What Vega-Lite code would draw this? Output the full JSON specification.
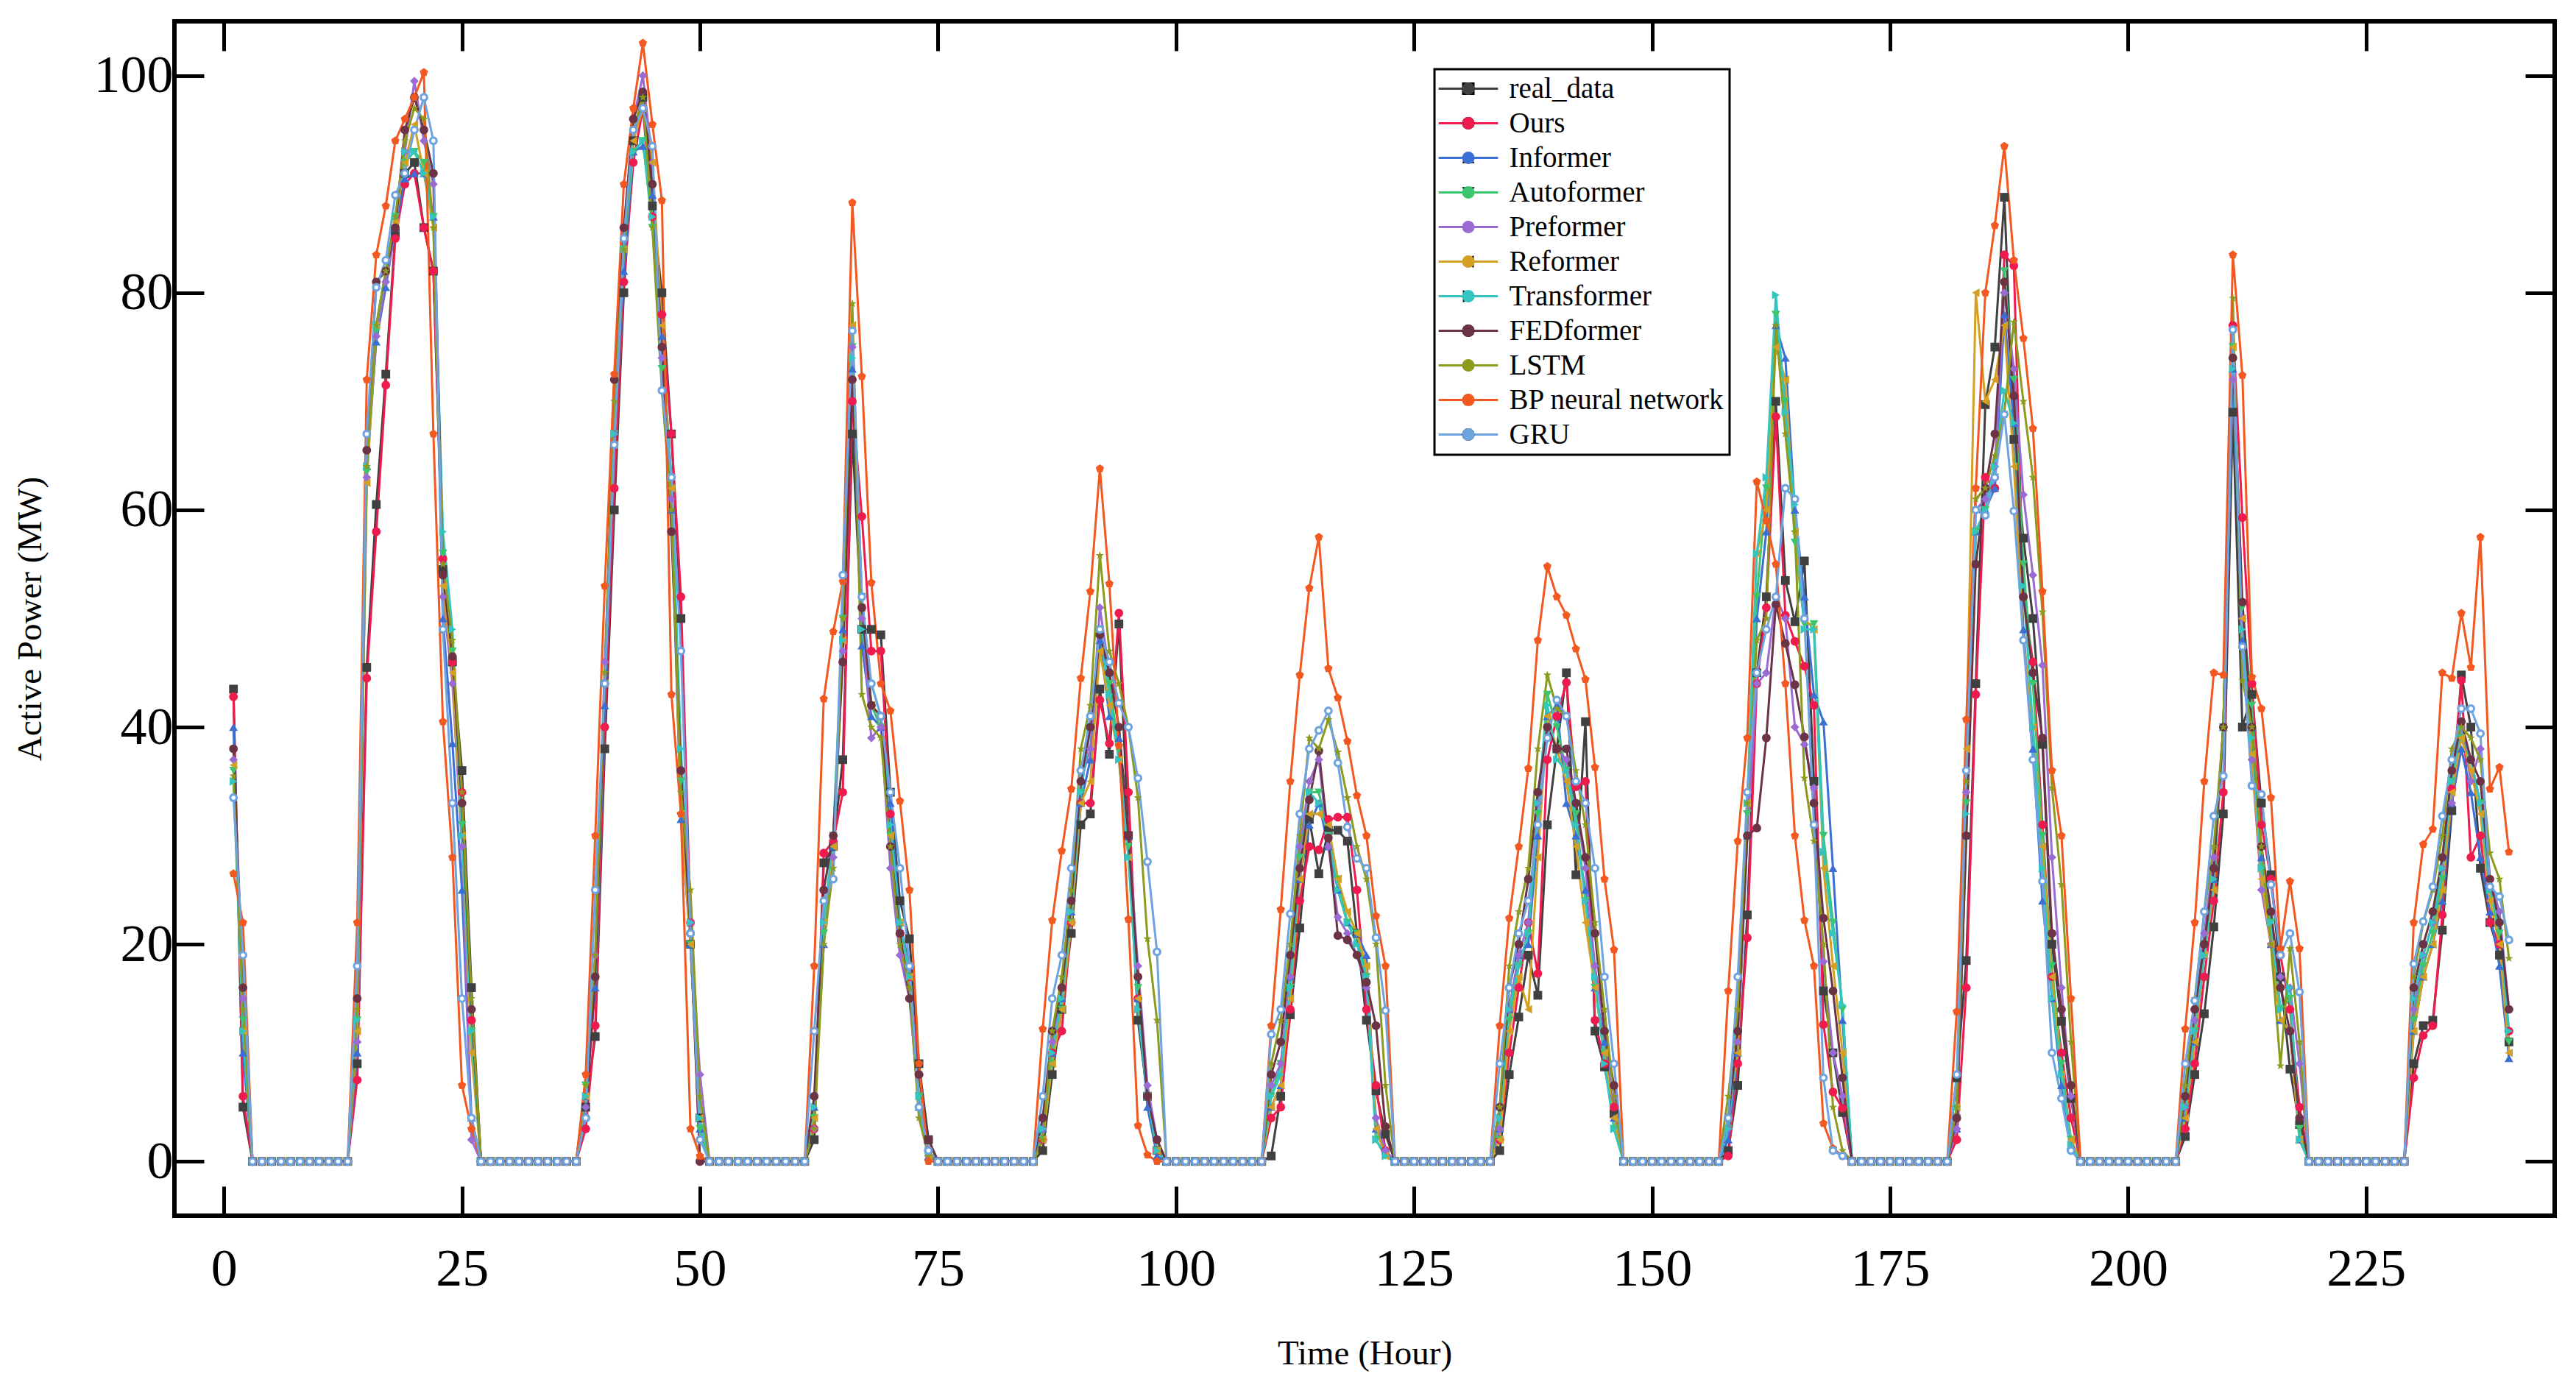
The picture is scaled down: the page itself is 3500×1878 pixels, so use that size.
{
"$schema":"https://vega.github.io/schema/vega-lite/v6.json",
"width":3234,"height":1623,
"autosize":{"type":"none"},
"padding":{"left":237,"top":29,"right":29,"bottom":226},
"background":"white",
"config":{"view":{"stroke":"black","strokeWidth":6},"font":"Liberation Serif",
"axis":{"labelFont":"Liberation Serif","labelFontSize":72,"labelColor":"black","tickColor":"black","tickWidth":5,"tickSize":-40,"domain":false,"grid":false,"titleFont":"Liberation Serif","titleFontSize":47,"titleFontWeight":"normal","titleColor":"black"},
"legend":{"strokeWidth":3}},
"data":{"values":[
{"t":1,"real_data":43.5,"Ours":42.8,"Informer":40,"Autoformer":36,"Preformer":37,"Reformer":36.5,"Transformer":35,"FEDformer":38,"LSTM":35.5,"BP neural network":26.5,"GRU":33.5},
{"t":2,"real_data":5,"Ours":6,"Informer":10,"Autoformer":13,"Preformer":15,"Reformer":12,"Transformer":12,"FEDformer":16,"LSTM":14,"BP neural network":22,"GRU":19},
{"t":3,"real_data":0,"Ours":0,"Informer":0,"Autoformer":0,"Preformer":0,"Reformer":0,"Transformer":0,"FEDformer":0,"LSTM":0,"BP neural network":0,"GRU":0},
{"t":4,"real_data":0,"Ours":0,"Informer":0,"Autoformer":0,"Preformer":0,"Reformer":0,"Transformer":0,"FEDformer":0,"LSTM":0,"BP neural network":0,"GRU":0},
{"t":5,"real_data":0,"Ours":0,"Informer":0,"Autoformer":0,"Preformer":0,"Reformer":0,"Transformer":0,"FEDformer":0,"LSTM":0,"BP neural network":0,"GRU":0},
{"t":6,"real_data":0,"Ours":0,"Informer":0,"Autoformer":0,"Preformer":0,"Reformer":0,"Transformer":0,"FEDformer":0,"LSTM":0,"BP neural network":0,"GRU":0},
{"t":7,"real_data":0,"Ours":0,"Informer":0,"Autoformer":0,"Preformer":0,"Reformer":0,"Transformer":0,"FEDformer":0,"LSTM":0,"BP neural network":0,"GRU":0},
{"t":8,"real_data":0,"Ours":0,"Informer":0,"Autoformer":0,"Preformer":0,"Reformer":0,"Transformer":0,"FEDformer":0,"LSTM":0,"BP neural network":0,"GRU":0},
{"t":9,"real_data":0,"Ours":0,"Informer":0,"Autoformer":0,"Preformer":0,"Reformer":0,"Transformer":0,"FEDformer":0,"LSTM":0,"BP neural network":0,"GRU":0},
{"t":10,"real_data":0,"Ours":0,"Informer":0,"Autoformer":0,"Preformer":0,"Reformer":0,"Transformer":0,"FEDformer":0,"LSTM":0,"BP neural network":0,"GRU":0},
{"t":11,"real_data":0,"Ours":0,"Informer":0,"Autoformer":0,"Preformer":0,"Reformer":0,"Transformer":0,"FEDformer":0,"LSTM":0,"BP neural network":0,"GRU":0},
{"t":12,"real_data":0,"Ours":0,"Informer":0,"Autoformer":0,"Preformer":0,"Reformer":0,"Transformer":0,"FEDformer":0,"LSTM":0,"BP neural network":0,"GRU":0},
{"t":13,"real_data":0,"Ours":0,"Informer":0,"Autoformer":0,"Preformer":0,"Reformer":0,"Transformer":0,"FEDformer":0,"LSTM":0,"BP neural network":0,"GRU":0},
{"t":14,"real_data":9,"Ours":7.5,"Informer":10,"Autoformer":13,"Preformer":11,"Reformer":12,"Transformer":13,"FEDformer":15,"LSTM":14,"BP neural network":22,"GRU":18},
{"t":15,"real_data":45.5,"Ours":44.5,"Informer":64,"Autoformer":63.5,"Preformer":63,"Reformer":62.5,"Transformer":64,"FEDformer":65.5,"LSTM":64,"BP neural network":72,"GRU":67},
{"t":16,"real_data":60.5,"Ours":58,"Informer":75.5,"Autoformer":76.5,"Preformer":76,"Reformer":77,"Transformer":77,"FEDformer":81,"LSTM":77,"BP neural network":83.5,"GRU":80.5},
{"t":17,"real_data":72.5,"Ours":71.5,"Informer":80.5,"Autoformer":82,"Preformer":81,"Reformer":82,"Transformer":82,"FEDformer":82,"LSTM":82,"BP neural network":88,"GRU":83},
{"t":18,"real_data":85.5,"Ours":85,"Informer":86,"Autoformer":87,"Preformer":86,"Reformer":86.5,"Transformer":87,"FEDformer":86,"LSTM":87,"BP neural network":94,"GRU":89},
{"t":19,"real_data":91,"Ours":90,"Informer":90.5,"Autoformer":92,"Preformer":93,"Reformer":92,"Transformer":93,"FEDformer":95,"LSTM":94,"BP neural network":96,"GRU":91},
{"t":20,"real_data":92,"Ours":91,"Informer":91,"Autoformer":93,"Preformer":99.5,"Reformer":95.5,"Transformer":93,"FEDformer":98,"LSTM":97,"BP neural network":98,"GRU":95},
{"t":21,"real_data":86,"Ours":86,"Informer":91,"Autoformer":92,"Preformer":94,"Reformer":91,"Transformer":91,"FEDformer":95,"LSTM":96,"BP neural network":100.3,"GRU":98},
{"t":22,"real_data":82,"Ours":82,"Informer":87,"Autoformer":87,"Preformer":90,"Reformer":86,"Transformer":87,"FEDformer":91,"LSTM":86,"BP neural network":67,"GRU":94},
{"t":23,"real_data":54.5,"Ours":55.5,"Informer":50,"Autoformer":56,"Preformer":52,"Reformer":53,"Transformer":58,"FEDformer":54,"LSTM":55,"BP neural network":40.5,"GRU":49},
{"t":24,"real_data":46,"Ours":46,"Informer":38.5,"Autoformer":47,"Preformer":44,"Reformer":45,"Transformer":49,"FEDformer":46.5,"LSTM":48,"BP neural network":28,"GRU":33},
{"t":25,"real_data":36,"Ours":34,"Informer":25,"Autoformer":31,"Preformer":29,"Reformer":30,"Transformer":30,"FEDformer":33,"LSTM":34,"BP neural network":7,"GRU":15},
{"t":26,"real_data":16,"Ours":13,"Informer":4,"Autoformer":12,"Preformer":2,"Reformer":10,"Transformer":12,"FEDformer":14,"LSTM":15,"BP neural network":3,"GRU":4},
{"t":27,"real_data":0,"Ours":0,"Informer":0,"Autoformer":0,"Preformer":0,"Reformer":0,"Transformer":0,"FEDformer":0,"LSTM":0,"BP neural network":0,"GRU":0},
{"t":28,"real_data":0,"Ours":0,"Informer":0,"Autoformer":0,"Preformer":0,"Reformer":0,"Transformer":0,"FEDformer":0,"LSTM":0,"BP neural network":0,"GRU":0},
{"t":29,"real_data":0,"Ours":0,"Informer":0,"Autoformer":0,"Preformer":0,"Reformer":0,"Transformer":0,"FEDformer":0,"LSTM":0,"BP neural network":0,"GRU":0},
{"t":30,"real_data":0,"Ours":0,"Informer":0,"Autoformer":0,"Preformer":0,"Reformer":0,"Transformer":0,"FEDformer":0,"LSTM":0,"BP neural network":0,"GRU":0},
{"t":31,"real_data":0,"Ours":0,"Informer":0,"Autoformer":0,"Preformer":0,"Reformer":0,"Transformer":0,"FEDformer":0,"LSTM":0,"BP neural network":0,"GRU":0},
{"t":32,"real_data":0,"Ours":0,"Informer":0,"Autoformer":0,"Preformer":0,"Reformer":0,"Transformer":0,"FEDformer":0,"LSTM":0,"BP neural network":0,"GRU":0},
{"t":33,"real_data":0,"Ours":0,"Informer":0,"Autoformer":0,"Preformer":0,"Reformer":0,"Transformer":0,"FEDformer":0,"LSTM":0,"BP neural network":0,"GRU":0},
{"t":34,"real_data":0,"Ours":0,"Informer":0,"Autoformer":0,"Preformer":0,"Reformer":0,"Transformer":0,"FEDformer":0,"LSTM":0,"BP neural network":0,"GRU":0},
{"t":35,"real_data":0,"Ours":0,"Informer":0,"Autoformer":0,"Preformer":0,"Reformer":0,"Transformer":0,"FEDformer":0,"LSTM":0,"BP neural network":0,"GRU":0},
{"t":36,"real_data":0,"Ours":0,"Informer":0,"Autoformer":0,"Preformer":0,"Reformer":0,"Transformer":0,"FEDformer":0,"LSTM":0,"BP neural network":0,"GRU":0},
{"t":37,"real_data":0,"Ours":0,"Informer":0,"Autoformer":0,"Preformer":0,"Reformer":0,"Transformer":0,"FEDformer":0,"LSTM":0,"BP neural network":0,"GRU":0},
{"t":38,"real_data":5,"Ours":3,"Informer":6,"Autoformer":7,"Preformer":5,"Reformer":6,"Transformer":6,"FEDformer":4,"LSTM":7,"BP neural network":8,"GRU":4},
{"t":39,"real_data":11.5,"Ours":12.5,"Informer":16,"Autoformer":17,"Preformer":19,"Reformer":17,"Transformer":17,"FEDformer":17,"LSTM":19,"BP neural network":30,"GRU":25},
{"t":40,"real_data":38,"Ours":40,"Informer":42,"Autoformer":44,"Preformer":46,"Reformer":44,"Transformer":44,"FEDformer":44,"LSTM":45,"BP neural network":53,"GRU":44},
{"t":41,"real_data":60,"Ours":62,"Informer":66,"Autoformer":67,"Preformer":67,"Reformer":66,"Transformer":67,"FEDformer":72,"LSTM":70,"BP neural network":72.5,"GRU":66},
{"t":42,"real_data":80,"Ours":81,"Informer":82,"Autoformer":84,"Preformer":85,"Reformer":84,"Transformer":84,"FEDformer":86,"LSTM":84,"BP neural network":90,"GRU":85},
{"t":43,"real_data":94,"Ours":92,"Informer":93,"Autoformer":93,"Preformer":96,"Reformer":94,"Transformer":93,"FEDformer":96,"LSTM":95,"BP neural network":97,"GRU":95},
{"t":44,"real_data":98,"Ours":97,"Informer":93.5,"Autoformer":94,"Preformer":100,"Reformer":97,"Transformer":94,"FEDformer":98.5,"LSTM":98,"BP neural network":103,"GRU":97},
{"t":45,"real_data":88,"Ours":87,"Informer":89,"Autoformer":86,"Preformer":92,"Reformer":92,"Transformer":87,"FEDformer":90,"LSTM":86,"BP neural network":95.5,"GRU":93.5},
{"t":46,"real_data":80,"Ours":78,"Informer":76,"Autoformer":73,"Preformer":74,"Reformer":77,"Transformer":75,"FEDformer":75,"LSTM":71,"BP neural network":88.5,"GRU":71},
{"t":47,"real_data":67,"Ours":67,"Informer":60,"Autoformer":63,"Preformer":61,"Reformer":62,"Transformer":63,"FEDformer":58,"LSTM":60,"BP neural network":43,"GRU":63},
{"t":48,"real_data":50,"Ours":52,"Informer":31.5,"Autoformer":35,"Preformer":32,"Reformer":32,"Transformer":38,"FEDformer":36,"LSTM":34,"BP neural network":32,"GRU":47},
{"t":49,"real_data":20,"Ours":22,"Informer":20,"Autoformer":20,"Preformer":22,"Reformer":20,"Transformer":22,"FEDformer":21,"LSTM":25,"BP neural network":3,"GRU":21},
{"t":50,"real_data":4,"Ours":0,"Informer":3,"Autoformer":3,"Preformer":8,"Reformer":4,"Transformer":4,"FEDformer":0,"LSTM":6,"BP neural network":0.5,"GRU":2},
{"t":51,"real_data":0,"Ours":0,"Informer":0,"Autoformer":0,"Preformer":0,"Reformer":0,"Transformer":0,"FEDformer":0,"LSTM":0,"BP neural network":0,"GRU":0},
{"t":52,"real_data":0,"Ours":0,"Informer":0,"Autoformer":0,"Preformer":0,"Reformer":0,"Transformer":0,"FEDformer":0,"LSTM":0,"BP neural network":0,"GRU":0},
{"t":53,"real_data":0,"Ours":0,"Informer":0,"Autoformer":0,"Preformer":0,"Reformer":0,"Transformer":0,"FEDformer":0,"LSTM":0,"BP neural network":0,"GRU":0},
{"t":54,"real_data":0,"Ours":0,"Informer":0,"Autoformer":0,"Preformer":0,"Reformer":0,"Transformer":0,"FEDformer":0,"LSTM":0,"BP neural network":0,"GRU":0},
{"t":55,"real_data":0,"Ours":0,"Informer":0,"Autoformer":0,"Preformer":0,"Reformer":0,"Transformer":0,"FEDformer":0,"LSTM":0,"BP neural network":0,"GRU":0},
{"t":56,"real_data":0,"Ours":0,"Informer":0,"Autoformer":0,"Preformer":0,"Reformer":0,"Transformer":0,"FEDformer":0,"LSTM":0,"BP neural network":0,"GRU":0},
{"t":57,"real_data":0,"Ours":0,"Informer":0,"Autoformer":0,"Preformer":0,"Reformer":0,"Transformer":0,"FEDformer":0,"LSTM":0,"BP neural network":0,"GRU":0},
{"t":58,"real_data":0,"Ours":0,"Informer":0,"Autoformer":0,"Preformer":0,"Reformer":0,"Transformer":0,"FEDformer":0,"LSTM":0,"BP neural network":0,"GRU":0},
{"t":59,"real_data":0,"Ours":0,"Informer":0,"Autoformer":0,"Preformer":0,"Reformer":0,"Transformer":0,"FEDformer":0,"LSTM":0,"BP neural network":0,"GRU":0},
{"t":60,"real_data":0,"Ours":0,"Informer":0,"Autoformer":0,"Preformer":0,"Reformer":0,"Transformer":0,"FEDformer":0,"LSTM":0,"BP neural network":0,"GRU":0},
{"t":61,"real_data":0,"Ours":0,"Informer":0,"Autoformer":0,"Preformer":0,"Reformer":0,"Transformer":0,"FEDformer":0,"LSTM":0,"BP neural network":0,"GRU":0},
{"t":62,"real_data":2,"Ours":3,"Informer":5,"Autoformer":4,"Preformer":3,"Reformer":4,"Transformer":5,"FEDformer":6,"LSTM":3,"BP neural network":18,"GRU":12},
{"t":63,"real_data":27.5,"Ours":28.4,"Informer":20,"Autoformer":21,"Preformer":22,"Reformer":22,"Transformer":22,"FEDformer":25,"LSTM":20,"BP neural network":42.6,"GRU":24},
{"t":64,"real_data":29,"Ours":29.5,"Informer":29,"Autoformer":30,"Preformer":28,"Reformer":29,"Transformer":30,"FEDformer":30,"LSTM":27,"BP neural network":48.8,"GRU":26},
{"t":65,"real_data":37,"Ours":34,"Informer":49,"Autoformer":50,"Preformer":47,"Reformer":48,"Transformer":48,"FEDformer":46,"LSTM":50,"BP neural network":53.4,"GRU":54},
{"t":66,"real_data":67,"Ours":70,"Informer":73,"Autoformer":75,"Preformer":75,"Reformer":77,"Transformer":74,"FEDformer":72,"LSTM":79,"BP neural network":88.3,"GRU":76.5},
{"t":67,"real_data":49,"Ours":59.4,"Informer":47.5,"Autoformer":52,"Preformer":50,"Reformer":51,"Transformer":49,"FEDformer":51,"LSTM":43,"BP neural network":72.3,"GRU":52},
{"t":68,"real_data":49,"Ours":47,"Informer":41,"Autoformer":42,"Preformer":39,"Reformer":42,"Transformer":44,"FEDformer":42,"LSTM":40,"BP neural network":53.3,"GRU":44},
{"t":69,"real_data":48.5,"Ours":47,"Informer":40,"Autoformer":40,"Preformer":40,"Reformer":41,"Transformer":41,"FEDformer":41,"LSTM":39,"BP neural network":44,"GRU":41},
{"t":70,"real_data":34,"Ours":32,"Informer":33,"Autoformer":30,"Preformer":27,"Reformer":30,"Transformer":31,"FEDformer":29,"LSTM":29,"BP neural network":41.5,"GRU":34},
{"t":71,"real_data":24,"Ours":21,"Informer":22,"Autoformer":22,"Preformer":19,"Reformer":22,"Transformer":22,"FEDformer":21,"LSTM":20,"BP neural network":33.2,"GRU":27},
{"t":72,"real_data":20.5,"Ours":17,"Informer":18,"Autoformer":17,"Preformer":15,"Reformer":17,"Transformer":17,"FEDformer":15,"LSTM":16,"BP neural network":25,"GRU":18},
{"t":73,"real_data":9,"Ours":8,"Informer":5,"Autoformer":6,"Preformer":5,"Reformer":5,"Transformer":6,"FEDformer":8,"LSTM":4,"BP neural network":9,"GRU":5},
{"t":74,"real_data":2,"Ours":1,"Informer":0.5,"Autoformer":0.5,"Preformer":0.5,"Reformer":0.5,"Transformer":1,"FEDformer":2,"LSTM":0.5,"BP neural network":0,"GRU":1},
{"t":75,"real_data":0,"Ours":0,"Informer":0,"Autoformer":0,"Preformer":0,"Reformer":0,"Transformer":0,"FEDformer":0,"LSTM":0,"BP neural network":0,"GRU":0},
{"t":76,"real_data":0,"Ours":0,"Informer":0,"Autoformer":0,"Preformer":0,"Reformer":0,"Transformer":0,"FEDformer":0,"LSTM":0,"BP neural network":0,"GRU":0},
{"t":77,"real_data":0,"Ours":0,"Informer":0,"Autoformer":0,"Preformer":0,"Reformer":0,"Transformer":0,"FEDformer":0,"LSTM":0,"BP neural network":0,"GRU":0},
{"t":78,"real_data":0,"Ours":0,"Informer":0,"Autoformer":0,"Preformer":0,"Reformer":0,"Transformer":0,"FEDformer":0,"LSTM":0,"BP neural network":0,"GRU":0},
{"t":79,"real_data":0,"Ours":0,"Informer":0,"Autoformer":0,"Preformer":0,"Reformer":0,"Transformer":0,"FEDformer":0,"LSTM":0,"BP neural network":0,"GRU":0},
{"t":80,"real_data":0,"Ours":0,"Informer":0,"Autoformer":0,"Preformer":0,"Reformer":0,"Transformer":0,"FEDformer":0,"LSTM":0,"BP neural network":0,"GRU":0},
{"t":81,"real_data":0,"Ours":0,"Informer":0,"Autoformer":0,"Preformer":0,"Reformer":0,"Transformer":0,"FEDformer":0,"LSTM":0,"BP neural network":0,"GRU":0},
{"t":82,"real_data":0,"Ours":0,"Informer":0,"Autoformer":0,"Preformer":0,"Reformer":0,"Transformer":0,"FEDformer":0,"LSTM":0,"BP neural network":0,"GRU":0},
{"t":83,"real_data":0,"Ours":0,"Informer":0,"Autoformer":0,"Preformer":0,"Reformer":0,"Transformer":0,"FEDformer":0,"LSTM":0,"BP neural network":0,"GRU":0},
{"t":84,"real_data":0,"Ours":0,"Informer":0,"Autoformer":0,"Preformer":0,"Reformer":0,"Transformer":0,"FEDformer":0,"LSTM":0,"BP neural network":0,"GRU":0},
{"t":85,"real_data":0,"Ours":0,"Informer":0,"Autoformer":0,"Preformer":0,"Reformer":0,"Transformer":0,"FEDformer":0,"LSTM":0,"BP neural network":0,"GRU":0},
{"t":86,"real_data":1,"Ours":2,"Informer":3,"Autoformer":2,"Preformer":3,"Reformer":2,"Transformer":3,"FEDformer":4,"LSTM":2,"BP neural network":12.2,"GRU":6},
{"t":87,"real_data":8,"Ours":10,"Informer":10,"Autoformer":9,"Preformer":11,"Reformer":9,"Transformer":10,"FEDformer":12,"LSTM":12,"BP neural network":22.2,"GRU":15},
{"t":88,"real_data":14,"Ours":12,"Informer":15,"Autoformer":14,"Preformer":16,"Reformer":14,"Transformer":15,"FEDformer":16,"LSTM":17,"BP neural network":28.6,"GRU":19},
{"t":89,"real_data":21,"Ours":22,"Informer":23,"Autoformer":22,"Preformer":24,"Reformer":22,"Transformer":23,"FEDformer":24,"LSTM":25,"BP neural network":34.3,"GRU":27},
{"t":90,"real_data":31,"Ours":33,"Informer":33,"Autoformer":34,"Preformer":35,"Reformer":33,"Transformer":34,"FEDformer":35,"LSTM":38,"BP neural network":44.5,"GRU":36},
{"t":91,"real_data":32,"Ours":33,"Informer":37,"Autoformer":40,"Preformer":38,"Reformer":35,"Transformer":40,"FEDformer":40,"LSTM":42,"BP neural network":52.5,"GRU":41},
{"t":92,"real_data":43.5,"Ours":42.5,"Informer":48,"Autoformer":49,"Preformer":51,"Reformer":47,"Transformer":49,"FEDformer":48.5,"LSTM":55.8,"BP neural network":63.8,"GRU":49},
{"t":93,"real_data":37.5,"Ours":38.5,"Informer":41,"Autoformer":44,"Preformer":45,"Reformer":42,"Transformer":43,"FEDformer":45,"LSTM":47,"BP neural network":53.2,"GRU":46},
{"t":94,"real_data":49.5,"Ours":50.5,"Informer":39,"Autoformer":38,"Preformer":40,"Reformer":37,"Transformer":37,"FEDformer":40,"LSTM":44,"BP neural network":38.3,"GRU":42.2},
{"t":95,"real_data":30,"Ours":34,"Informer":30,"Autoformer":29,"Preformer":30,"Reformer":28,"Transformer":28,"FEDformer":30,"LSTM":40,"BP neural network":22.3,"GRU":40},
{"t":96,"real_data":13,"Ours":15,"Informer":15,"Autoformer":16,"Preformer":18,"Reformer":15,"Transformer":14,"FEDformer":17,"LSTM":33.5,"BP neural network":3.3,"GRU":35.3},
{"t":97,"real_data":6,"Ours":6,"Informer":5,"Autoformer":6,"Preformer":7,"Reformer":6,"Transformer":6,"FEDformer":6,"LSTM":20.5,"BP neural network":0.6,"GRU":27.6},
{"t":98,"real_data":1,"Ours":1,"Informer":0.5,"Autoformer":1,"Preformer":2,"Reformer":1,"Transformer":1,"FEDformer":2,"LSTM":13,"BP neural network":0,"GRU":19.3},
{"t":99,"real_data":0,"Ours":0,"Informer":0,"Autoformer":0,"Preformer":0,"Reformer":0,"Transformer":0,"FEDformer":0,"LSTM":0,"BP neural network":0,"GRU":0},
{"t":100,"real_data":0,"Ours":0,"Informer":0,"Autoformer":0,"Preformer":0,"Reformer":0,"Transformer":0,"FEDformer":0,"LSTM":0,"BP neural network":0,"GRU":0},
{"t":101,"real_data":0,"Ours":0,"Informer":0,"Autoformer":0,"Preformer":0,"Reformer":0,"Transformer":0,"FEDformer":0,"LSTM":0,"BP neural network":0,"GRU":0},
{"t":102,"real_data":0,"Ours":0,"Informer":0,"Autoformer":0,"Preformer":0,"Reformer":0,"Transformer":0,"FEDformer":0,"LSTM":0,"BP neural network":0,"GRU":0},
{"t":103,"real_data":0,"Ours":0,"Informer":0,"Autoformer":0,"Preformer":0,"Reformer":0,"Transformer":0,"FEDformer":0,"LSTM":0,"BP neural network":0,"GRU":0},
{"t":104,"real_data":0,"Ours":0,"Informer":0,"Autoformer":0,"Preformer":0,"Reformer":0,"Transformer":0,"FEDformer":0,"LSTM":0,"BP neural network":0,"GRU":0},
{"t":105,"real_data":0,"Ours":0,"Informer":0,"Autoformer":0,"Preformer":0,"Reformer":0,"Transformer":0,"FEDformer":0,"LSTM":0,"BP neural network":0,"GRU":0},
{"t":106,"real_data":0,"Ours":0,"Informer":0,"Autoformer":0,"Preformer":0,"Reformer":0,"Transformer":0,"FEDformer":0,"LSTM":0,"BP neural network":0,"GRU":0},
{"t":107,"real_data":0,"Ours":0,"Informer":0,"Autoformer":0,"Preformer":0,"Reformer":0,"Transformer":0,"FEDformer":0,"LSTM":0,"BP neural network":0,"GRU":0},
{"t":108,"real_data":0,"Ours":0,"Informer":0,"Autoformer":0,"Preformer":0,"Reformer":0,"Transformer":0,"FEDformer":0,"LSTM":0,"BP neural network":0,"GRU":0},
{"t":109,"real_data":0,"Ours":0,"Informer":0,"Autoformer":0,"Preformer":0,"Reformer":0,"Transformer":0,"FEDformer":0,"LSTM":0,"BP neural network":0,"GRU":0},
{"t":110,"real_data":0.5,"Ours":4,"Informer":5,"Autoformer":6,"Preformer":7,"Reformer":5,"Transformer":6,"FEDformer":8,"LSTM":9,"BP neural network":12.5,"GRU":11.7},
{"t":111,"real_data":6,"Ours":5,"Informer":7,"Autoformer":9,"Preformer":9,"Reformer":7,"Transformer":8,"FEDformer":11,"LSTM":13,"BP neural network":23.2,"GRU":14},
{"t":112,"real_data":13.5,"Ours":14,"Informer":17,"Autoformer":16,"Preformer":17,"Reformer":15,"Transformer":16,"FEDformer":19,"LSTM":20,"BP neural network":35,"GRU":22.8},
{"t":113,"real_data":21.5,"Ours":24,"Informer":26,"Autoformer":28,"Preformer":29,"Reformer":26,"Transformer":27,"FEDformer":27,"LSTM":30,"BP neural network":44.8,"GRU":32},
{"t":114,"real_data":31.5,"Ours":29,"Informer":31,"Autoformer":34,"Preformer":35,"Reformer":32,"Transformer":34,"FEDformer":33.3,"LSTM":39,"BP neural network":52.8,"GRU":38},
{"t":115,"real_data":26.5,"Ours":28.7,"Informer":33,"Autoformer":34,"Preformer":37,"Reformer":32,"Transformer":33,"FEDformer":37.8,"LSTM":38,"BP neural network":57.5,"GRU":39.7},
{"t":116,"real_data":30.5,"Ours":31.5,"Informer":29,"Autoformer":30,"Preformer":29,"Reformer":31,"Transformer":30,"FEDformer":29.8,"LSTM":40.7,"BP neural network":45.4,"GRU":41.5},
{"t":117,"real_data":30.5,"Ours":31.7,"Informer":25,"Autoformer":26,"Preformer":22.5,"Reformer":26,"Transformer":25,"FEDformer":20.8,"LSTM":37.7,"BP neural network":42.7,"GRU":36.7},
{"t":118,"real_data":29.5,"Ours":31.7,"Informer":22,"Autoformer":22,"Preformer":21,"Reformer":23,"Transformer":22,"FEDformer":20.4,"LSTM":33.5,"BP neural network":38.7,"GRU":30.8},
{"t":119,"real_data":21,"Ours":25,"Informer":21,"Autoformer":21,"Preformer":19,"Reformer":21,"Transformer":20,"FEDformer":19,"LSTM":29,"BP neural network":33.7,"GRU":27.9},
{"t":120,"real_data":13,"Ours":14,"Informer":19,"Autoformer":17,"Preformer":16,"Reformer":18,"Transformer":17,"FEDformer":16.5,"LSTM":26,"BP neural network":30,"GRU":27},
{"t":121,"real_data":6.5,"Ours":7,"Informer":3,"Autoformer":2,"Preformer":4,"Reformer":3,"Transformer":2,"FEDformer":12.5,"LSTM":20,"BP neural network":22.6,"GRU":20.6},
{"t":122,"real_data":2.5,"Ours":1,"Informer":1,"Autoformer":0.5,"Preformer":1,"Reformer":0.5,"Transformer":0.5,"FEDformer":3.2,"LSTM":7,"BP neural network":18,"GRU":13.9},
{"t":123,"real_data":0,"Ours":0,"Informer":0,"Autoformer":0,"Preformer":0,"Reformer":0,"Transformer":0,"FEDformer":0,"LSTM":0,"BP neural network":0,"GRU":0},
{"t":124,"real_data":0,"Ours":0,"Informer":0,"Autoformer":0,"Preformer":0,"Reformer":0,"Transformer":0,"FEDformer":0,"LSTM":0,"BP neural network":0,"GRU":0},
{"t":125,"real_data":0,"Ours":0,"Informer":0,"Autoformer":0,"Preformer":0,"Reformer":0,"Transformer":0,"FEDformer":0,"LSTM":0,"BP neural network":0,"GRU":0},
{"t":126,"real_data":0,"Ours":0,"Informer":0,"Autoformer":0,"Preformer":0,"Reformer":0,"Transformer":0,"FEDformer":0,"LSTM":0,"BP neural network":0,"GRU":0},
{"t":127,"real_data":0,"Ours":0,"Informer":0,"Autoformer":0,"Preformer":0,"Reformer":0,"Transformer":0,"FEDformer":0,"LSTM":0,"BP neural network":0,"GRU":0},
{"t":128,"real_data":0,"Ours":0,"Informer":0,"Autoformer":0,"Preformer":0,"Reformer":0,"Transformer":0,"FEDformer":0,"LSTM":0,"BP neural network":0,"GRU":0},
{"t":129,"real_data":0,"Ours":0,"Informer":0,"Autoformer":0,"Preformer":0,"Reformer":0,"Transformer":0,"FEDformer":0,"LSTM":0,"BP neural network":0,"GRU":0},
{"t":130,"real_data":0,"Ours":0,"Informer":0,"Autoformer":0,"Preformer":0,"Reformer":0,"Transformer":0,"FEDformer":0,"LSTM":0,"BP neural network":0,"GRU":0},
{"t":131,"real_data":0,"Ours":0,"Informer":0,"Autoformer":0,"Preformer":0,"Reformer":0,"Transformer":0,"FEDformer":0,"LSTM":0,"BP neural network":0,"GRU":0},
{"t":132,"real_data":0,"Ours":0,"Informer":0,"Autoformer":0,"Preformer":0,"Reformer":0,"Transformer":0,"FEDformer":0,"LSTM":0,"BP neural network":0,"GRU":0},
{"t":133,"real_data":0,"Ours":0,"Informer":0,"Autoformer":0,"Preformer":0,"Reformer":0,"Transformer":0,"FEDformer":0,"LSTM":0,"BP neural network":0,"GRU":0},
{"t":134,"real_data":1,"Ours":2,"Informer":3,"Autoformer":2,"Preformer":3,"Reformer":2,"Transformer":4,"FEDformer":5,"LSTM":5,"BP neural network":12.5,"GRU":9},
{"t":135,"real_data":8,"Ours":10,"Informer":14,"Autoformer":13,"Preformer":14,"Reformer":12,"Transformer":14,"FEDformer":16,"LSTM":18,"BP neural network":22.4,"GRU":16},
{"t":136,"real_data":13.3,"Ours":16,"Informer":19,"Autoformer":18,"Preformer":19,"Reformer":17,"Transformer":18,"FEDformer":20,"LSTM":23,"BP neural network":29,"GRU":21},
{"t":137,"real_data":19,"Ours":22,"Informer":20,"Autoformer":21,"Preformer":22,"Reformer":14,"Transformer":21,"FEDformer":26,"LSTM":27,"BP neural network":36.2,"GRU":24},
{"t":138,"real_data":15.3,"Ours":17.3,"Informer":30,"Autoformer":32,"Preformer":33,"Reformer":28,"Transformer":33,"FEDformer":34,"LSTM":38,"BP neural network":48,"GRU":31},
{"t":139,"real_data":31,"Ours":37,"Informer":41,"Autoformer":43,"Preformer":40,"Reformer":41,"Transformer":42,"FEDformer":40,"LSTM":44.8,"BP neural network":54.8,"GRU":39},
{"t":140,"real_data":38,"Ours":41,"Informer":42,"Autoformer":40,"Preformer":38,"Reformer":38,"Transformer":37,"FEDformer":38,"LSTM":41.7,"BP neural network":52,"GRU":42.5},
{"t":141,"real_data":45,"Ours":44.1,"Informer":33,"Autoformer":36,"Preformer":37,"Reformer":35,"Transformer":36,"FEDformer":38,"LSTM":41,"BP neural network":50.3,"GRU":41},
{"t":142,"real_data":26.4,"Ours":34.5,"Informer":30,"Autoformer":32,"Preformer":33,"Reformer":29,"Transformer":31,"FEDformer":33,"LSTM":36,"BP neural network":47.2,"GRU":35},
{"t":143,"real_data":40.5,"Ours":35,"Informer":25,"Autoformer":24,"Preformer":27,"Reformer":22,"Transformer":24,"FEDformer":28,"LSTM":31,"BP neural network":44.4,"GRU":33},
{"t":144,"real_data":12,"Ours":13,"Informer":16,"Autoformer":16,"Preformer":18,"Reformer":16,"Transformer":17,"FEDformer":21,"LSTM":22,"BP neural network":36.3,"GRU":27},
{"t":145,"real_data":8.7,"Ours":9,"Informer":11,"Autoformer":10,"Preformer":12,"Reformer":10,"Transformer":9,"FEDformer":12,"LSTM":14,"BP neural network":26,"GRU":17},
{"t":146,"real_data":4.4,"Ours":5,"Informer":4,"Autoformer":3,"Preformer":6,"Reformer":4,"Transformer":3,"FEDformer":7,"LSTM":6,"BP neural network":19.5,"GRU":9},
{"t":147,"real_data":0,"Ours":0,"Informer":0,"Autoformer":0,"Preformer":0,"Reformer":0,"Transformer":0,"FEDformer":0,"LSTM":0,"BP neural network":0,"GRU":0},
{"t":148,"real_data":0,"Ours":0,"Informer":0,"Autoformer":0,"Preformer":0,"Reformer":0,"Transformer":0,"FEDformer":0,"LSTM":0,"BP neural network":0,"GRU":0},
{"t":149,"real_data":0,"Ours":0,"Informer":0,"Autoformer":0,"Preformer":0,"Reformer":0,"Transformer":0,"FEDformer":0,"LSTM":0,"BP neural network":0,"GRU":0},
{"t":150,"real_data":0,"Ours":0,"Informer":0,"Autoformer":0,"Preformer":0,"Reformer":0,"Transformer":0,"FEDformer":0,"LSTM":0,"BP neural network":0,"GRU":0},
{"t":151,"real_data":0,"Ours":0,"Informer":0,"Autoformer":0,"Preformer":0,"Reformer":0,"Transformer":0,"FEDformer":0,"LSTM":0,"BP neural network":0,"GRU":0},
{"t":152,"real_data":0,"Ours":0,"Informer":0,"Autoformer":0,"Preformer":0,"Reformer":0,"Transformer":0,"FEDformer":0,"LSTM":0,"BP neural network":0,"GRU":0},
{"t":153,"real_data":0,"Ours":0,"Informer":0,"Autoformer":0,"Preformer":0,"Reformer":0,"Transformer":0,"FEDformer":0,"LSTM":0,"BP neural network":0,"GRU":0},
{"t":154,"real_data":0,"Ours":0,"Informer":0,"Autoformer":0,"Preformer":0,"Reformer":0,"Transformer":0,"FEDformer":0,"LSTM":0,"BP neural network":0,"GRU":0},
{"t":155,"real_data":0,"Ours":0,"Informer":0,"Autoformer":0,"Preformer":0,"Reformer":0,"Transformer":0,"FEDformer":0,"LSTM":0,"BP neural network":0,"GRU":0},
{"t":156,"real_data":0,"Ours":0,"Informer":0,"Autoformer":0,"Preformer":0,"Reformer":0,"Transformer":0,"FEDformer":0,"LSTM":0,"BP neural network":0,"GRU":0},
{"t":157,"real_data":0,"Ours":0,"Informer":0,"Autoformer":0,"Preformer":0,"Reformer":0,"Transformer":0,"FEDformer":0,"LSTM":0,"BP neural network":0,"GRU":0},
{"t":158,"real_data":1,"Ours":0.5,"Informer":2,"Autoformer":3,"Preformer":3,"Reformer":4,"Transformer":3,"FEDformer":4,"LSTM":6,"BP neural network":15.7,"GRU":4},
{"t":159,"real_data":7,"Ours":9,"Informer":10,"Autoformer":12,"Preformer":11,"Reformer":10,"Transformer":12,"FEDformer":12,"LSTM":14,"BP neural network":29.5,"GRU":17},
{"t":160,"real_data":22.7,"Ours":20.6,"Informer":30,"Autoformer":32,"Preformer":30,"Reformer":33,"Transformer":33,"FEDformer":30,"LSTM":33,"BP neural network":39,"GRU":34},
{"t":161,"real_data":45,"Ours":44,"Informer":50,"Autoformer":52,"Preformer":44,"Reformer":56,"Transformer":56,"FEDformer":30.7,"LSTM":48,"BP neural network":62.6,"GRU":45},
{"t":162,"real_data":52,"Ours":51,"Informer":58,"Autoformer":62,"Preformer":45,"Reformer":60,"Transformer":63,"FEDformer":39,"LSTM":50,"BP neural network":59,"GRU":49},
{"t":163,"real_data":70,"Ours":68.6,"Informer":77,"Autoformer":78,"Preformer":52,"Reformer":75,"Transformer":79.8,"FEDformer":51.3,"LSTM":77,"BP neural network":55,"GRU":52},
{"t":164,"real_data":53.5,"Ours":50.3,"Informer":74,"Autoformer":70,"Preformer":50,"Reformer":72,"Transformer":69,"FEDformer":47.7,"LSTM":67,"BP neural network":44,"GRU":62},
{"t":165,"real_data":49.7,"Ours":47.9,"Informer":60,"Autoformer":57,"Preformer":40,"Reformer":58,"Transformer":60.5,"FEDformer":43.9,"LSTM":58,"BP neural network":30,"GRU":61},
{"t":166,"real_data":55.3,"Ours":45.6,"Informer":52,"Autoformer":49.5,"Preformer":38.4,"Reformer":50,"Transformer":49,"FEDformer":39.1,"LSTM":35.3,"BP neural network":22.2,"GRU":50},
{"t":167,"real_data":35,"Ours":42,"Informer":43,"Autoformer":49.5,"Preformer":34.4,"Reformer":49,"Transformer":49,"FEDformer":33,"LSTM":29.5,"BP neural network":18,"GRU":31},
{"t":168,"real_data":15.7,"Ours":12.6,"Informer":40.5,"Autoformer":30,"Preformer":18.4,"Reformer":27,"Transformer":28.5,"FEDformer":22.4,"LSTM":20,"BP neural network":3.5,"GRU":7.7},
{"t":169,"real_data":10,"Ours":6.4,"Informer":27,"Autoformer":22,"Preformer":10,"Reformer":18,"Transformer":21,"FEDformer":15.7,"LSTM":5,"BP neural network":1.2,"GRU":1},
{"t":170,"real_data":4.5,"Ours":4.9,"Informer":13,"Autoformer":14,"Preformer":6,"Reformer":10,"Transformer":14.4,"FEDformer":7.7,"LSTM":1,"BP neural network":0.5,"GRU":0.5},
{"t":171,"real_data":0,"Ours":0,"Informer":0,"Autoformer":0,"Preformer":0,"Reformer":0,"Transformer":0,"FEDformer":0,"LSTM":0,"BP neural network":0,"GRU":0},
{"t":172,"real_data":0,"Ours":0,"Informer":0,"Autoformer":0,"Preformer":0,"Reformer":0,"Transformer":0,"FEDformer":0,"LSTM":0,"BP neural network":0,"GRU":0},
{"t":173,"real_data":0,"Ours":0,"Informer":0,"Autoformer":0,"Preformer":0,"Reformer":0,"Transformer":0,"FEDformer":0,"LSTM":0,"BP neural network":0,"GRU":0},
{"t":174,"real_data":0,"Ours":0,"Informer":0,"Autoformer":0,"Preformer":0,"Reformer":0,"Transformer":0,"FEDformer":0,"LSTM":0,"BP neural network":0,"GRU":0},
{"t":175,"real_data":0,"Ours":0,"Informer":0,"Autoformer":0,"Preformer":0,"Reformer":0,"Transformer":0,"FEDformer":0,"LSTM":0,"BP neural network":0,"GRU":0},
{"t":176,"real_data":0,"Ours":0,"Informer":0,"Autoformer":0,"Preformer":0,"Reformer":0,"Transformer":0,"FEDformer":0,"LSTM":0,"BP neural network":0,"GRU":0},
{"t":177,"real_data":0,"Ours":0,"Informer":0,"Autoformer":0,"Preformer":0,"Reformer":0,"Transformer":0,"FEDformer":0,"LSTM":0,"BP neural network":0,"GRU":0},
{"t":178,"real_data":0,"Ours":0,"Informer":0,"Autoformer":0,"Preformer":0,"Reformer":0,"Transformer":0,"FEDformer":0,"LSTM":0,"BP neural network":0,"GRU":0},
{"t":179,"real_data":0,"Ours":0,"Informer":0,"Autoformer":0,"Preformer":0,"Reformer":0,"Transformer":0,"FEDformer":0,"LSTM":0,"BP neural network":0,"GRU":0},
{"t":180,"real_data":0,"Ours":0,"Informer":0,"Autoformer":0,"Preformer":0,"Reformer":0,"Transformer":0,"FEDformer":0,"LSTM":0,"BP neural network":0,"GRU":0},
{"t":181,"real_data":0,"Ours":0,"Informer":0,"Autoformer":0,"Preformer":0,"Reformer":0,"Transformer":0,"FEDformer":0,"LSTM":0,"BP neural network":0,"GRU":0},
{"t":182,"real_data":7.7,"Ours":2,"Informer":3,"Autoformer":4,"Preformer":3,"Reformer":5,"Transformer":5,"FEDformer":4,"LSTM":5,"BP neural network":13.8,"GRU":8},
{"t":183,"real_data":18.5,"Ours":16,"Informer":30,"Autoformer":33,"Preformer":34,"Reformer":38,"Transformer":32,"FEDformer":30,"LSTM":35,"BP neural network":40.7,"GRU":36},
{"t":184,"real_data":44,"Ours":43,"Informer":58,"Autoformer":58,"Preformer":60,"Reformer":80,"Transformer":58,"FEDformer":55,"LSTM":61,"BP neural network":62,"GRU":60},
{"t":185,"real_data":69.7,"Ours":63,"Informer":60,"Autoformer":60,"Preformer":61,"Reformer":70,"Transformer":60,"FEDformer":62,"LSTM":62,"BP neural network":80,"GRU":59.5},
{"t":186,"real_data":75,"Ours":62,"Informer":62,"Autoformer":63,"Preformer":64,"Reformer":72,"Transformer":64,"FEDformer":67,"LSTM":65,"BP neural network":86.2,"GRU":63},
{"t":187,"real_data":88.8,"Ours":83.5,"Informer":78,"Autoformer":82,"Preformer":80,"Reformer":77,"Transformer":71,"FEDformer":81,"LSTM":69,"BP neural network":93.5,"GRU":68.8},
{"t":188,"real_data":66.5,"Ours":82.5,"Informer":68,"Autoformer":72,"Preformer":73,"Reformer":64,"Transformer":68,"FEDformer":70.5,"LSTM":77.3,"BP neural network":83,"GRU":59.9},
{"t":189,"real_data":57.4,"Ours":52,"Informer":49,"Autoformer":55,"Preformer":61.4,"Reformer":48,"Transformer":53,"FEDformer":52,"LSTM":70,"BP neural network":75.8,"GRU":48},
{"t":190,"real_data":50,"Ours":46,"Informer":38,"Autoformer":44,"Preformer":54,"Reformer":40,"Transformer":40,"FEDformer":45,"LSTM":63,"BP neural network":67.5,"GRU":37},
{"t":191,"real_data":38.4,"Ours":31,"Informer":24,"Autoformer":30,"Preformer":45.7,"Reformer":29,"Transformer":27,"FEDformer":39,"LSTM":50.6,"BP neural network":52.5,"GRU":25.8},
{"t":192,"real_data":20,"Ours":17,"Informer":15,"Autoformer":18,"Preformer":28,"Reformer":17,"Transformer":15,"FEDformer":21,"LSTM":34.4,"BP neural network":36,"GRU":10},
{"t":193,"real_data":12.9,"Ours":10,"Informer":7,"Autoformer":9,"Preformer":16,"Reformer":8,"Transformer":8,"FEDformer":14,"LSTM":25.5,"BP neural network":30,"GRU":5.8},
{"t":194,"real_data":5.8,"Ours":4,"Informer":1.5,"Autoformer":2,"Preformer":6,"Reformer":2,"Transformer":1.5,"FEDformer":7,"LSTM":11,"BP neural network":15,"GRU":1},
{"t":195,"real_data":0,"Ours":0,"Informer":0,"Autoformer":0,"Preformer":0,"Reformer":0,"Transformer":0,"FEDformer":0,"LSTM":0,"BP neural network":0,"GRU":0},
{"t":196,"real_data":0,"Ours":0,"Informer":0,"Autoformer":0,"Preformer":0,"Reformer":0,"Transformer":0,"FEDformer":0,"LSTM":0,"BP neural network":0,"GRU":0},
{"t":197,"real_data":0,"Ours":0,"Informer":0,"Autoformer":0,"Preformer":0,"Reformer":0,"Transformer":0,"FEDformer":0,"LSTM":0,"BP neural network":0,"GRU":0},
{"t":198,"real_data":0,"Ours":0,"Informer":0,"Autoformer":0,"Preformer":0,"Reformer":0,"Transformer":0,"FEDformer":0,"LSTM":0,"BP neural network":0,"GRU":0},
{"t":199,"real_data":0,"Ours":0,"Informer":0,"Autoformer":0,"Preformer":0,"Reformer":0,"Transformer":0,"FEDformer":0,"LSTM":0,"BP neural network":0,"GRU":0},
{"t":200,"real_data":0,"Ours":0,"Informer":0,"Autoformer":0,"Preformer":0,"Reformer":0,"Transformer":0,"FEDformer":0,"LSTM":0,"BP neural network":0,"GRU":0},
{"t":201,"real_data":0,"Ours":0,"Informer":0,"Autoformer":0,"Preformer":0,"Reformer":0,"Transformer":0,"FEDformer":0,"LSTM":0,"BP neural network":0,"GRU":0},
{"t":202,"real_data":0,"Ours":0,"Informer":0,"Autoformer":0,"Preformer":0,"Reformer":0,"Transformer":0,"FEDformer":0,"LSTM":0,"BP neural network":0,"GRU":0},
{"t":203,"real_data":0,"Ours":0,"Informer":0,"Autoformer":0,"Preformer":0,"Reformer":0,"Transformer":0,"FEDformer":0,"LSTM":0,"BP neural network":0,"GRU":0},
{"t":204,"real_data":0,"Ours":0,"Informer":0,"Autoformer":0,"Preformer":0,"Reformer":0,"Transformer":0,"FEDformer":0,"LSTM":0,"BP neural network":0,"GRU":0},
{"t":205,"real_data":0,"Ours":0,"Informer":0,"Autoformer":0,"Preformer":0,"Reformer":0,"Transformer":0,"FEDformer":0,"LSTM":0,"BP neural network":0,"GRU":0},
{"t":206,"real_data":2.3,"Ours":3,"Informer":4,"Autoformer":5,"Preformer":5,"Reformer":4,"Transformer":5,"FEDformer":6,"LSTM":7,"BP neural network":12.2,"GRU":9},
{"t":207,"real_data":8,"Ours":9,"Informer":11,"Autoformer":12,"Preformer":13,"Reformer":11,"Transformer":12,"FEDformer":14,"LSTM":15,"BP neural network":22,"GRU":14.8},
{"t":208,"real_data":13.6,"Ours":17,"Informer":19,"Autoformer":20,"Preformer":21,"Reformer":19,"Transformer":19,"FEDformer":20,"LSTM":23,"BP neural network":35,"GRU":23},
{"t":209,"real_data":21.6,"Ours":24,"Informer":26,"Autoformer":27,"Preformer":28,"Reformer":25,"Transformer":26,"FEDformer":27,"LSTM":29,"BP neural network":45,"GRU":31.8},
{"t":210,"real_data":32,"Ours":34,"Informer":40,"Autoformer":40,"Preformer":40,"Reformer":40,"Transformer":40,"FEDformer":40,"LSTM":40,"BP neural network":44.8,"GRU":35.5},
{"t":211,"real_data":69,"Ours":77,"Informer":73,"Autoformer":75,"Preformer":72,"Reformer":75,"Transformer":73,"FEDformer":74,"LSTM":79.5,"BP neural network":83.5,"GRU":76.6},
{"t":212,"real_data":40,"Ours":59.3,"Informer":48,"Autoformer":51,"Preformer":50,"Reformer":50,"Transformer":49,"FEDformer":51.5,"LSTM":44.3,"BP neural network":72.4,"GRU":47.4},
{"t":213,"real_data":43,"Ours":44,"Informer":40,"Autoformer":42,"Preformer":37,"Reformer":37.5,"Transformer":39,"FEDformer":40,"LSTM":40,"BP neural network":44.6,"GRU":34.6},
{"t":214,"real_data":33,"Ours":31,"Informer":28,"Autoformer":27,"Preformer":25,"Reformer":26,"Transformer":27,"FEDformer":29,"LSTM":29,"BP neural network":41.7,"GRU":33.8},
{"t":215,"real_data":26.4,"Ours":26,"Informer":20,"Autoformer":22,"Preformer":20,"Reformer":20,"Transformer":22,"FEDformer":23,"LSTM":20,"BP neural network":33.5,"GRU":25.5},
{"t":216,"real_data":17,"Ours":19,"Informer":13,"Autoformer":14,"Preformer":17,"Reformer":13,"Transformer":14,"FEDformer":16,"LSTM":8.8,"BP neural network":19.6,"GRU":19},
{"t":217,"real_data":8.5,"Ours":14,"Informer":12,"Autoformer":15,"Preformer":16,"Reformer":12,"Transformer":16,"FEDformer":12,"LSTM":19.6,"BP neural network":25.8,"GRU":21},
{"t":218,"real_data":3.4,"Ours":5,"Informer":2,"Autoformer":3,"Preformer":9,"Reformer":2,"Transformer":2,"FEDformer":4,"LSTM":11,"BP neural network":19.6,"GRU":15.6},
{"t":219,"real_data":0,"Ours":0,"Informer":0,"Autoformer":0,"Preformer":0,"Reformer":0,"Transformer":0,"FEDformer":0,"LSTM":0,"BP neural network":0,"GRU":0},
{"t":220,"real_data":0,"Ours":0,"Informer":0,"Autoformer":0,"Preformer":0,"Reformer":0,"Transformer":0,"FEDformer":0,"LSTM":0,"BP neural network":0,"GRU":0},
{"t":221,"real_data":0,"Ours":0,"Informer":0,"Autoformer":0,"Preformer":0,"Reformer":0,"Transformer":0,"FEDformer":0,"LSTM":0,"BP neural network":0,"GRU":0},
{"t":222,"real_data":0,"Ours":0,"Informer":0,"Autoformer":0,"Preformer":0,"Reformer":0,"Transformer":0,"FEDformer":0,"LSTM":0,"BP neural network":0,"GRU":0},
{"t":223,"real_data":0,"Ours":0,"Informer":0,"Autoformer":0,"Preformer":0,"Reformer":0,"Transformer":0,"FEDformer":0,"LSTM":0,"BP neural network":0,"GRU":0},
{"t":224,"real_data":0,"Ours":0,"Informer":0,"Autoformer":0,"Preformer":0,"Reformer":0,"Transformer":0,"FEDformer":0,"LSTM":0,"BP neural network":0,"GRU":0},
{"t":225,"real_data":0,"Ours":0,"Informer":0,"Autoformer":0,"Preformer":0,"Reformer":0,"Transformer":0,"FEDformer":0,"LSTM":0,"BP neural network":0,"GRU":0},
{"t":226,"real_data":0,"Ours":0,"Informer":0,"Autoformer":0,"Preformer":0,"Reformer":0,"Transformer":0,"FEDformer":0,"LSTM":0,"BP neural network":0,"GRU":0},
{"t":227,"real_data":0,"Ours":0,"Informer":0,"Autoformer":0,"Preformer":0,"Reformer":0,"Transformer":0,"FEDformer":0,"LSTM":0,"BP neural network":0,"GRU":0},
{"t":228,"real_data":0,"Ours":0,"Informer":0,"Autoformer":0,"Preformer":0,"Reformer":0,"Transformer":0,"FEDformer":0,"LSTM":0,"BP neural network":0,"GRU":0},
{"t":229,"real_data":0,"Ours":0,"Informer":0,"Autoformer":0,"Preformer":0,"Reformer":0,"Transformer":0,"FEDformer":0,"LSTM":0,"BP neural network":0,"GRU":0},
{"t":230,"real_data":9,"Ours":7.7,"Informer":12,"Autoformer":13,"Preformer":14,"Reformer":12,"Transformer":15,"FEDformer":16,"LSTM":17,"BP neural network":22,"GRU":18.2},
{"t":231,"real_data":12.5,"Ours":11.6,"Informer":17,"Autoformer":18,"Preformer":19,"Reformer":17,"Transformer":19,"FEDformer":20,"LSTM":22,"BP neural network":29.2,"GRU":22.1},
{"t":232,"real_data":13,"Ours":12.5,"Informer":20,"Autoformer":21,"Preformer":22,"Reformer":20,"Transformer":22,"FEDformer":23,"LSTM":25,"BP neural network":30.6,"GRU":25.3},
{"t":233,"real_data":21.3,"Ours":22.7,"Informer":24,"Autoformer":26,"Preformer":27,"Reformer":25,"Transformer":27,"FEDformer":28,"LSTM":30,"BP neural network":45,"GRU":31.8},
{"t":234,"real_data":32.3,"Ours":34.3,"Informer":33,"Autoformer":35,"Preformer":33,"Reformer":34,"Transformer":35,"FEDformer":36,"LSTM":38,"BP neural network":44.5,"GRU":37},
{"t":235,"real_data":44.8,"Ours":44.3,"Informer":38,"Autoformer":39,"Preformer":40,"Reformer":39,"Transformer":40,"FEDformer":40.5,"LSTM":40,"BP neural network":50.5,"GRU":41.7},
{"t":236,"real_data":40,"Ours":28,"Informer":34,"Autoformer":37,"Preformer":35,"Reformer":36,"Transformer":37,"FEDformer":37,"LSTM":39,"BP neural network":45.5,"GRU":41.7},
{"t":237,"real_data":27,"Ours":30,"Informer":28,"Autoformer":33,"Preformer":38,"Reformer":32,"Transformer":33,"FEDformer":35,"LSTM":37,"BP neural network":57.5,"GRU":39.4},
{"t":238,"real_data":22,"Ours":22,"Informer":23,"Autoformer":25,"Preformer":26,"Reformer":24,"Transformer":25,"FEDformer":26,"LSTM":28.4,"BP neural network":34.3,"GRU":25.3},
{"t":239,"real_data":19,"Ours":20,"Informer":18,"Autoformer":21,"Preformer":23,"Reformer":20,"Transformer":22,"FEDformer":22,"LSTM":26,"BP neural network":36.3,"GRU":24.4},
{"t":240,"real_data":11,"Ours":12,"Informer":9.5,"Autoformer":11,"Preformer":14,"Reformer":10,"Transformer":12,"FEDformer":14,"LSTM":18.7,"BP neural network":28.5,"GRU":20.4}
]},
"transform":[{"fold":["real_data","Ours","Informer","Autoformer","Preformer","Reformer","Transformer","FEDformer","LSTM","BP neural network","GRU"],"as":["key","value"]}],
"layer":[
{"mark":{"type":"line","strokeWidth":3},
 "encoding":{
  "x":{"field":"t","type":"quantitative","scale":{"domain":[-5.2,244.8],"nice":false,"zero":false},"axis":{"orient":"bottom","values":[0,25,50,75,100,125,150,175,200,225],"title":"Time (Hour)","labelPadding":77,"titlePadding":56}},
  "y":{"field":"value","type":"quantitative","scale":{"domain":[-5,105],"nice":false,"zero":false},"axis":{"orient":"left","values":[0,20,40,60,80,100],"title":"Active Power (MW)","labelPadding":42,"titlePadding":62}},
  "color":{"field":"key","type":"nominal","sort":["real_data","Ours","Informer","Autoformer","Preformer","Reformer","Transformer","FEDformer","LSTM","BP neural network","GRU"],"scale":{"range":["#404040","#ee1c4e","#3b6fd4","#3cc46e","#9a6bd3","#d4a024","#34c5c0","#6b3344","#8c9a1e","#f2581f","#6fa3e0"]},
   "legend":{"title":null,"orient":"none","legendX":1712,"legendY":65,"direction":"vertical","symbolType":"M-5.7,0H5.7","symbolSize":200,"symbolStrokeWidth":3,"symbolOffset":19.5,"labelOffset":36,"padding":7,"rowPadding":7,"labelFontSize":39,"labelFont":"Liberation Serif","labelColor":"black","labelLimit":0,"strokeColor":"black","fillColor":"white","zindex":0}}
 }},
{"mark":{"type":"point","filled":true,"size":140,"opacity":1},
 "encoding":{
  "x":{"field":"t","type":"quantitative","axis":null},
  "y":{"field":"value","type":"quantitative","axis":null},
  "color":{"field":"key","type":"nominal","scale":{"domain":["real_data","Ours","Informer","Autoformer","Preformer","Reformer","Transformer","FEDformer","LSTM","BP neural network","GRU"],"range":["#404040","#ee1c4e","#3b6fd4","#3cc46e","#9a6bd3","#d4a024","#34c5c0","#6b3344","#8c9a1e","#f2581f","#6fa3e0"]},
   "legend":{"title":null,"orient":"none","legendX":1712,"legendY":65,"direction":"vertical","symbolSize":290,"symbolStrokeWidth":0,"symbolOffset":19.5,"labelOffset":36,"padding":7,"rowPadding":7,"labelFontSize":39,"labelFont":"Liberation Serif","labelOpacity":0,"labelLimit":0,"zindex":1}},
  "shape":{"field":"key","type":"nominal","scale":{"domain":["real_data","Ours","Informer","Autoformer","Preformer","Reformer","Transformer","FEDformer","LSTM","BP neural network","GRU"],"range":["square","circle","triangle-up","triangle-down","diamond","triangle-left","triangle-right","circle","M0,-1L0.235,-0.324L0.951,-0.309L0.38,0.124L0.588,0.809L0,0.4L-0.588,0.809L-0.38,0.124L-0.951,-0.309L-0.235,-0.324Z","M0,-1L0.951,-0.309L0.588,0.809L-0.588,0.809L-0.951,-0.309Z","circle"]},
   "legend":{"title":null,"orient":"none","legendX":1712,"legendY":65,"direction":"vertical","symbolSize":290,"symbolStrokeWidth":0,"symbolOffset":19.5,"labelOffset":36,"padding":7,"rowPadding":7,"labelFontSize":39,"labelFont":"Liberation Serif","labelOpacity":0,"labelLimit":0,"zindex":1}}
 }},
{"transform":[{"filter":"datum.key === 'GRU'"}],
 "mark":{"type":"point","filled":true,"size":30,"color":"white","opacity":1},
 "encoding":{"x":{"field":"t","type":"quantitative","axis":null},"y":{"field":"value","type":"quantitative","axis":null}}},
{"mark":{"type":"point","opacity":0},
 "encoding":{
  "x":{"field":"t","type":"quantitative","axis":{"orient":"top","labels":false,"title":null,"values":[0,25,50,75,100,125,150,175,200,225]}},
  "y":{"field":"value","type":"quantitative","axis":{"orient":"right","labels":false,"title":null,"values":[0,20,40,60,80,100]}}}}
],
"resolve":{"scale":{"color":"independent"},"axis":{"x":"independent","y":"independent"}}
}
